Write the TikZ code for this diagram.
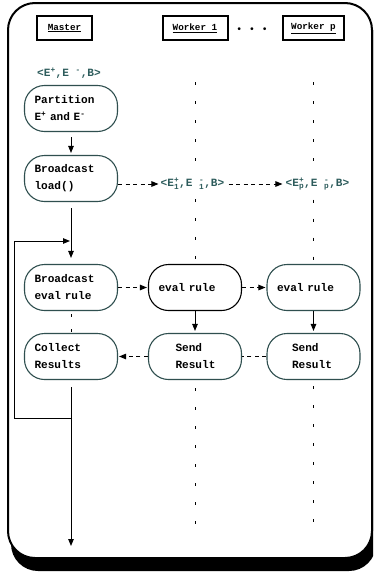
\documentclass[tikz,border=0pt]{standalone}
\usepackage{amsmath}
\usepackage{fontspec}
\setmonofont{Liberation Mono}
\usetikzlibrary{arrows.meta}
\definecolor{boxc}{RGB}{47,79,79}
\definecolor{tealtxt}{RGB}{45,92,92}

\begin{document}
\begin{tikzpicture}[x=1pt,y=-1pt,
  head/.style={draw, line width=2pt, minimum height=24pt, inner sep=0pt,
    font=\fontsize{9.3}{11}\selectfont\ttfamily\bfseries},
  proc/.style={draw=boxc, line width=1.1pt, rounded corners=20pt,
    minimum height=46pt, text width=73pt, inner xsep=10pt, inner ysep=0pt,
    align=left, font=\fontsize{11.1}{17}\selectfont\ttfamily\bfseries},
  tuple/.style={text=tealtxt, inner sep=1pt,
    font=\fontsize{11.1}{13}\selectfont\ttfamily\bfseries},
  tip/.style={-{Triangle[length=7pt,width=5.5pt]}},
  flow/.style={line width=0.9pt, tip},
  msg/.style={line width=0.9pt, dash pattern=on 4pt off 3.5pt},
  msgarrow/.style={msg, tip},
  life/.style={line width=1pt, dash pattern=on 3pt off 16pt},
]
\useasboundingbox (0,0) rectangle (373,573);
\clip (0,0) rectangle (373,573);

% outer frame with drop shadow
\fill[rounded corners=27pt] (11,15) rectangle (376,571);
\draw[line width=2pt, fill=white, rounded corners=27pt] (8,3) rectangle (372,558);

% column headers
\node[head, minimum width=55pt] (hm)  at (64.5,28) {\underline{Master}};
\node[head, minimum width=65pt] (hw1) at (195,28)  {\underline{Worker 1}};
\node[head, minimum width=61pt] (hwp) at (313.5,28) {\underline{Worker p}};
\node[inner sep=0pt, font=\fontsize{10}{12}\selectfont] (dots) at (252,30)
  {\textbullet\hspace{5pt}\textbullet\hspace{5pt}\textbullet};

% data tuples
\node[tuple] (t0) at (69,73) {<E$^{\text{+}}$,E $^{\text{-}}$,B>};
\node[tuple] (t1) at (192.5,184) {<E$^{\text{+}}_{\text{1}}$,E $^{\text{-}}_{\text{1}}$,B>};
\node[tuple] (tp) at (317.5,184) {<E$^{\text{+}}_{\text{p}}$,E $^{\text{-}}_{\text{p}}$,B>};

% master steps
\node[proc] (part)  at (71,108.5) {Partition\\E$^{\text{+}}$ and E$^{\text{-}}$};
\node[proc] (bload) at (71,178.5) {Broadcast\\load()};
\node[proc] (beval) at (71,287.5) {Broadcast\\eval rule};
\node[proc] (coll)  at (71,356.5) {Collect\\Results};

% worker steps
\node[proc, draw=black] (e1) at (195,287.5) {eval rule};
\node[proc] (ep) at (313.5,287.5) {eval rule};
\node[proc] (s1) at (195,356.5) {\hspace*{17pt}Send\\\hspace*{17pt}Result};
\node[proc] (sp) at (313.5,356.5) {\hspace*{15pt}Send\\\hspace*{15pt}Result};

% loop and end points
\coordinate (loopin)  at (71,241);
\coordinate (loopout) at (71,418);
\coordinate (mend)    at (71,546);
\coordinate (w1end)   at (195,528);
\coordinate (wpend)   at (313.5,522);

% life lines
\draw[life, shorten <=41pt, shorten >=4pt] (hw1.south) -- (t1.north -| hw1.south);
\draw[life, shorten <=41pt, shorten >=4pt] (hwp.south) -- (tp.north -| hwp.south);
\draw[life, shorten <=8pt, shorten >=3pt] (t1.south -| e1.north) -- (e1.north);
\draw[life, shorten <=8pt, shorten >=3pt] (tp.south -| ep.north) -- (ep.north);
\draw[life, shorten <=8pt] (s1.south) -- (w1end);
\draw[life, shorten <=6pt] (sp.south) -- (wpend);
\draw[life, dash pattern=on 3pt off 12pt, shorten <=3pt] (beval.south) -- (coll.north);

% master control flow
\draw[flow, shorten <=5pt, shorten >=2pt] (part) -- (bload);
\draw[flow, shorten <=6pt, shorten >=6pt] (bload) -- (beval);
\draw[flow, shorten <=7pt] (coll.south) -- (mend);
\draw[flow, shorten >=1pt] ([xshift=1pt]loopout) -- ++(-58,0) |- (loopin);

% messages
\draw[msgarrow, shorten >=1pt] (bload.east |- t1.west) -- (t1.west);
\draw[msgarrow, shorten <=3pt, shorten >=2pt] (t1.east) -- (tp.west);
\draw[msgarrow, shorten >=1pt] (beval) -- (e1);
\draw[msgarrow, shorten >=1pt] (e1) -- (ep);
\draw[msgarrow, shorten >=1pt] (s1) -- (coll);
\draw[msg] (sp) -- (s1);

% worker control flow
\draw[flow, shorten >=2pt] (e1) -- (s1);
\draw[flow, shorten >=2pt] (ep) -- (sp);
\end{tikzpicture}
\end{document}
